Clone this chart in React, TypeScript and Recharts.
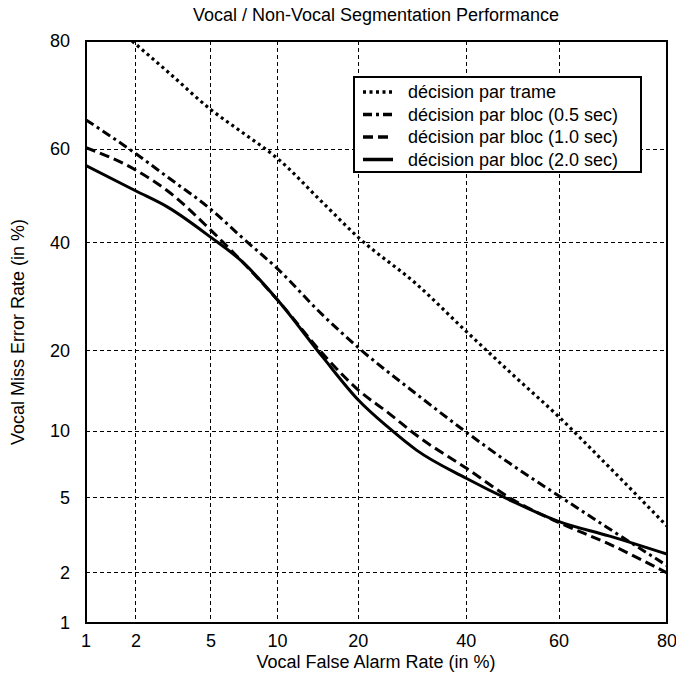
import React from 'react';
import { LineChart, Line, XAxis, YAxis, CartesianGrid, ReferenceArea, Legend } from 'recharts';

// Tick labels (percent) used on both probit-scaled axes
const tickValues = [1, 2, 5, 10, 20, 40, 60, 80];

const seriesNames = [
  'décision par trame',
  'décision par bloc (0.5 sec)',
  'décision par bloc (1.0 sec)',
  'décision par bloc (2.0 sec)',
];

// décision par trame
const trameFA = [1.9, 3, 5, 7, 10, 15, 20, 30, 40, 50, 60, 70, 80];
const trameMiss = [80, 75, 68, 63.5, 58, 48.5, 41, 31.5, 23, 16.5, 11.4, 7, 3.6];

// décision par bloc (0.5 sec)
const bloc05FA = [1, 2, 3, 5, 7, 10, 15, 20, 30, 40, 50, 60, 70, 80];
const bloc05Miss = [66, 59, 54, 47, 41, 34.5, 25.8, 20.4, 14, 9.9, 7.1, 5.1, 3.5, 2.2];

// décision par bloc (1.0 sec)
const bloc10FA = [1, 2, 3, 5, 7, 10, 15, 20, 25, 30, 40, 50, 60, 70, 80];
const bloc10Miss = [60.3, 55.5, 51, 42.5, 36, 28.5, 19.5, 14.5, 11.8, 9.6, 6.9, 4.9, 3.75, 2.9, 2.0];

// décision par bloc (2.0 sec)
const bloc20FA = [1, 2, 3, 5, 7, 10, 15, 20, 25, 30, 40, 50, 60, 70, 80];
const bloc20Miss = [56.5, 51, 47.5, 41, 36, 28.5, 19, 13.3, 10.3, 8.3, 6.2, 4.8, 3.8, 3.2, 2.55];

const dashes = ['3 3.5', '9 4 3 4', '10 5', ''];
const widths = [3.2, 3, 3, 3];

// Normal deviate (probit) transform used for DET axes
function probit(pct: number): number {
  const p = pct / 100;
  const a = [-3.969683028665376e1, 2.209460984245205e2, -2.759285104469687e2, 1.38357751867269e2, -3.066479806614716e1, 2.506628277459239];
  const b = [-5.447609879822406e1, 1.615858368580409e2, -1.556989798598866e2, 6.680131188771972e1, -1.328068155288572e1];
  const c = [-7.784894002430293e-3, -3.223964580411365e-1, -2.400758277161838, -2.549732539343734, 4.374664141464968, 2.938163982698783];
  const d = [7.784695709041462e-3, 3.224671290700398e-1, 2.445134137142996, 3.754408661907416];
  const plow = 0.02425;
  const phigh = 1 - plow;
  if (p < plow) {
    const q = Math.sqrt(-2 * Math.log(p));
    return (((((c[0] * q + c[1]) * q + c[2]) * q + c[3]) * q + c[4]) * q + c[5]) / ((((d[0] * q + d[1]) * q + d[2]) * q + d[3]) * q + 1);
  }
  if (p <= phigh) {
    const q = p - 0.5;
    const r = q * q;
    return ((((((a[0] * r + a[1]) * r + a[2]) * r + a[3]) * r + a[4]) * r + a[5]) * q) / (((((b[0] * r + b[1]) * r + b[2]) * r + b[3]) * r + b[4]) * r + 1);
  }
  const q = Math.sqrt(-2 * Math.log(1 - p));
  return -(((((c[0] * q + c[1]) * q + c[2]) * q + c[3]) * q + c[4]) * q + c[5]) / ((((d[0] * q + d[1]) * q + d[2]) * q + d[3]) * q + 1);
}

const toData = (fa: number[], miss: number[]) => fa.map((f, i) => ({ x: probit(f), y: probit(miss[i]) }));

const seriesData = [
  toData(trameFA, trameMiss),
  toData(bloc05FA, bloc05Miss),
  toData(bloc10FA, bloc10Miss),
  toData(bloc20FA, bloc20Miss),
];

const ticks = tickValues.map(probit);
const lo = probit(tickValues[0]);
const hi = probit(tickValues[tickValues.length - 1]);
const fmt = (v: number) => {
  const i = ticks.findIndex((t) => Math.abs(t - v) < 1e-6);
  return i >= 0 ? String(tickValues[i]) : '';
};

const FONT = '"Liberation Sans", Arial, sans-serif';
const FS = 18;

const LegendBox = () => (
  <svg width={289} height={97} style={{ display: 'block', fontFamily: FONT }}>
    <rect x={1} y={1} width={287} height={95} fill="#fff" stroke="#000" strokeWidth={2} />
    {seriesNames.map((name, i) => (
      <g key={name}>
        <line x1={10} x2={40} y1={16 + i * 22.5} y2={16 + i * 22.5} stroke="#000" strokeWidth={3.5} strokeDasharray={dashes[i] || undefined} />
        <text x={55} y={16 + i * 22.5} dominantBaseline="central" fontSize={FS} fill="#000">
          {name}
        </text>
      </g>
    ))}
  </svg>
);

export default function App() {
  return (
    <div style={{ position: 'absolute', left: 0, top: 0, background: '#fff' }}>
      <LineChart width={676} height={673} margin={{ top: 41, right: 9, bottom: 0, left: 0 }} style={{ fontFamily: FONT }}>
        <CartesianGrid stroke="#000" strokeDasharray="4 3" strokeWidth={1} shapeRendering="crispEdges" />
        <XAxis
          type="number"
          dataKey="x"
          domain={[lo, hi]}
          ticks={ticks}
          tickFormatter={fmt}
          allowDataOverflow
          height={50}
          axisLine={false}
          tickLine={false}
          tickSize={0}
          tickMargin={11}
          tick={{ fontSize: FS, fill: '#000' }}
        />
        <YAxis
          type="number"
          dataKey="y"
          domain={[lo, hi]}
          ticks={ticks}
          tickFormatter={fmt}
          allowDataOverflow
          width={86}
          axisLine={false}
          tickLine={false}
          tickSize={0}
          tickMargin={16}
          tick={{ fontSize: FS, fill: '#000' }}
        />
        {seriesData.map((d, i) => (
          <Line
            key={seriesNames[i]}
            data={d}
            dataKey="y"
            name={seriesNames[i]}
            type="monotone"
            stroke="#000"
            strokeWidth={widths[i]}
            strokeDasharray={dashes[i] || undefined}
            dot={false}
            activeDot={false}
            isAnimationActive={false}
          />
        ))}
        <ReferenceArea x1={lo} x2={hi} y1={lo} y2={hi} fill="none" fillOpacity={0} stroke="#000" strokeWidth={2} />
        <Legend
          layout="vertical"
          align="center"
          verticalAlign="middle"
          wrapperStyle={{ left: 353, top: 76, width: 289, height: 97 }}
          content={() => <LegendBox />}
        />
        <text x={376} y={15} textAnchor="middle" dominantBaseline="central" fontSize={FS} fill="#000">
          Vocal / Non-Vocal Segmentation Performance
        </text>
        <text x={376} y={662} textAnchor="middle" dominantBaseline="central" fontSize={FS} fill="#000">
          Vocal False Alarm Rate (in %)
        </text>
        <text x={18} y={332} transform="rotate(-90 18 332)" textAnchor="middle" dominantBaseline="central" fontSize={FS} fill="#000">
          Vocal Miss Error Rate (in %)
        </text>
      </LineChart>
    </div>
  );
}
